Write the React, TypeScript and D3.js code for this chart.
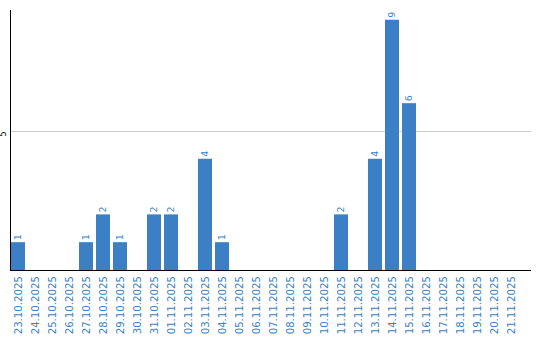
import React from "react";
import * as d3 from "d3";

const categories = [
  "23.10.2025","24.10.2025","25.10.2025","26.10.2025","27.10.2025","28.10.2025","29.10.2025","30.10.2025",
  "31.10.2025","01.11.2025","02.11.2025","03.11.2025","04.11.2025","05.11.2025","06.11.2025","07.11.2025",
  "08.11.2025","09.11.2025","10.11.2025","11.11.2025","12.11.2025","13.11.2025","14.11.2025","15.11.2025",
  "16.11.2025","17.11.2025","18.11.2025","19.11.2025","20.11.2025","21.11.2025",
];
const values = [1,0,0,0,1,2,1,0,2,2,0,4,1,0,0,0,0,0,0,2,0,4,9,6,0,0,0,0,0,0];
const yTicks = [5];

const W = 540, H = 340;
const left = 11, right = 531, top = 10, bottom = 270;
const BLUE = "#3b7fc4";
const FONT = "DejaVu Sans, Verdana, sans-serif";

export default function App() {
  const x = d3.scaleBand<string>().domain(categories).range([left, left + 17 * 30 - 3]).paddingInner(3 / 17).paddingOuter(0);
  const y = d3.scaleLinear().domain([0, 9.35]).range([bottom, top]);
  return (
    <svg width={W} height={H} style={{ position: "absolute", left: 0, top: 0 }}>
      {yTicks.map((t) => (
        <g key={t}>
          <line x1={left} x2={right} y1={Math.round(y(t)) + 0.5} y2={Math.round(y(t)) + 0.5} stroke="#cccccc" />
          <text transform={`translate(${3.5},${y(t) + 3}) rotate(-90)`} textAnchor="middle" dy="0.35em" fontSize={8} fontFamily={FONT} fill="#000">{t}</text>
        </g>
      ))}
      {values.map((v, i) => {
        const c = categories[i];
        const bx = x(c)!;
        const bw = x.bandwidth();
        return v > 0 ? (
          <g key={c}>
            <rect x={bx} y={y(v)} width={bw} height={bottom - y(v)} fill={BLUE} />
            <text transform={`translate(${bx + bw / 2},${y(v) - 2}) rotate(-90)`} dy="0.35em" fontSize={9.5} fontFamily={FONT} fill={BLUE}>{v}</text>
          </g>
        ) : null;
      })}
      {categories.map((c) => (
        <text key={c} transform={`translate(${x(c)! + x.bandwidth() / 2},${bottom + 6}) rotate(-90)`} textAnchor="end" dy="0.35em" fontSize={10.2} fontFamily={FONT} fill={BLUE}>{c}</text>
      ))}
      <line x1={10.5} x2={10.5} y1={top} y2={bottom + 1} stroke="#000" />
      <line x1={10} x2={right} y1={bottom + 0.5} y2={bottom + 0.5} stroke="#000" />
    </svg>
  );
}
